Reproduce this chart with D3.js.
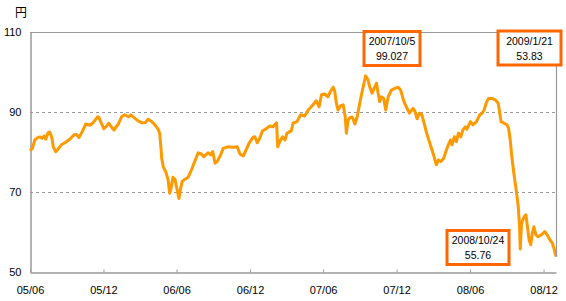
<!DOCTYPE html>
<html>
<head>
<meta charset="utf-8">
<script src="https://cdn.jsdelivr.net/npm/d3@7"></script>
<style>
  html, body { margin: 0; padding: 0; background: #fff; }
  svg { display: block; }
  text { font-family: "Liberation Sans", Arial, sans-serif; fill: #000; }
</style>
</head>
<body>
<svg id="chart" width="566" height="301"></svg>
<script>
// ---- data ----
const dates = [
"2005-06-21","2005-06-27","2005-07-03","2005-07-10","2005-07-16","2005-07-21","2005-07-26","2005-07-30",
"2005-08-05","2005-08-09","2005-08-14","2005-08-18","2005-08-24","2005-08-30","2005-09-07","2005-09-16",
"2005-09-28","2005-10-09","2005-10-15","2005-10-21","2005-10-29","2005-11-07","2005-11-17","2005-11-25",
"2005-12-06","2005-12-09","2005-12-14","2005-12-22","2005-12-29","2006-01-03","2006-01-10","2006-01-16",
"2006-01-27","2006-02-04","2006-02-12","2006-02-21","2006-02-27","2006-03-05","2006-03-17","2006-03-27",
"2006-04-05","2006-04-11","2006-04-20","2006-04-28","2006-05-06","2006-05-10","2006-05-13","2006-05-15",
"2006-05-19","2006-05-25","2006-05-31","2006-06-04","2006-06-08","2006-06-12","2006-06-17","2006-06-21",
"2006-06-27","2006-07-01","2006-07-05","2006-07-12","2006-07-20","2006-07-28","2006-08-05","2006-08-14",
"2006-08-22","2006-08-28","2006-09-04","2006-09-08","2006-09-14","2006-09-19","2006-09-25","2006-09-30",
"2006-10-09","2006-10-15","2006-10-27","2006-11-09","2006-11-19","2006-11-26","2006-12-04","2006-12-11",
"2006-12-19","2006-12-29","2007-01-02","2007-01-08","2007-01-14","2007-01-21","2007-01-29","2007-02-08",
"2007-02-16","2007-02-25","2007-02-28","2007-03-05","2007-03-12","2007-03-18","2007-03-23","2007-03-30",
"2007-04-03","2007-04-07","2007-04-17","2007-04-26","2007-05-06","2007-05-15","2007-05-27","2007-06-04",
"2007-06-11","2007-06-17","2007-06-25","2007-07-03","2007-07-09","2007-07-16","2007-07-20","2007-07-24",
"2007-07-28","2007-08-03","2007-08-10","2007-08-15","2007-08-18","2007-08-22","2007-08-28","2007-09-02",
"2007-09-08","2007-09-14","2007-09-21","2007-09-27","2007-10-05","2007-10-11","2007-10-15","2007-10-21",
"2007-10-26","2007-11-01","2007-11-05","2007-11-09","2007-11-13","2007-11-19","2007-11-24","2007-11-30",
"2007-12-08","2007-12-17","2007-12-25","2007-12-31","2008-01-06","2008-01-10","2008-01-18","2008-01-22",
"2008-01-31","2008-02-05","2008-02-10","2008-02-16","2008-02-22","2008-02-28","2008-03-06","2008-03-14",
"2008-03-22","2008-03-29","2008-04-03","2008-04-09","2008-04-16","2008-04-23","2008-04-28","2008-05-03",
"2008-05-07","2008-05-13","2008-05-18","2008-05-23","2008-05-29","2008-06-03","2008-06-09","2008-06-13",
"2008-06-22","2008-06-28","2008-07-07","2008-07-15","2008-07-21","2008-07-26","2008-07-31","2008-08-06",
"2008-08-15","2008-08-23","2008-08-30","2008-09-03","2008-09-06","2008-09-14","2008-09-21","2008-09-25",
"2008-09-29","2008-10-03","2008-10-07","2008-10-12","2008-10-16","2008-10-19","2008-10-22","2008-10-24",
"2008-10-27","2008-10-30","2008-11-03","2008-11-07","2008-11-11","2008-11-15","2008-11-19","2008-11-23",
"2008-11-27","2008-12-02","2008-12-07","2008-12-16","2008-12-24","2008-12-30","2009-01-06","2009-01-12",
"2009-01-16","2009-01-21"
];
const prices = [
80.3,80.9,83.0,83.6,83.8,83.4,84.0,83.2,
84.8,85.0,83.8,81.3,80.1,80.7,81.8,82.3,
83.2,84.3,84.4,83.6,85.1,87.0,86.7,87.3,
88.8,88.7,87.6,85.8,86.5,87.2,86.2,85.5,
87.0,88.8,89.3,88.8,89.3,88.8,87.8,87.3,
87.4,88.2,87.6,86.8,85.7,84.7,81.3,78.4,
76.3,75.1,73.0,69.7,71.3,73.7,73.2,71.2,
68.4,70.9,72.6,73.2,73.7,75.5,77.6,79.8,
79.5,78.8,79.5,79.8,79.3,80.1,77.2,77.6,
79.3,80.9,81.3,81.2,81.3,79.5,79.0,80.5,
82.3,83.7,83.8,82.3,83.4,85.3,85.7,86.5,
86.3,87.3,81.3,82.6,83.8,83.0,84.7,85.1,
85.3,87.2,87.6,89.3,89.0,90.5,91.8,92.8,
91.3,94.3,94.5,93.8,95.1,96.2,95.1,92.2,
90.5,91.5,91.8,88.8,84.7,88.0,88.7,88.7,
87.0,88.8,92.6,95.5,99.027,98.0,96.3,94.7,
95.9,97.2,94.7,92.6,93.8,93.4,90.5,93.8,
95.5,95.9,96.2,95.5,93.4,92.2,90.5,89.7,
90.9,90.1,88.3,89.7,89.3,87.0,84.3,81.8,
79.3,76.8,78.0,77.6,78.4,80.5,81.8,83.0,
81.8,83.8,82.6,84.7,83.8,85.5,86.3,85.7,
87.6,86.8,87.6,89.3,89.7,90.5,92.2,93.4,
93.4,93.0,92.2,89.7,87.6,87.2,86.8,85.9,
83.0,78.8,75.5,71.8,68.8,66.3,61.8,55.76,
62.0,63.0,63.8,64.3,61.3,58.0,56.8,59.7,
61.3,59.3,58.8,59.3,60.1,59.3,58.0,57.2,
55.9,53.83
];
const yTicks = [50, 70, 90, 110];
const gridValues = [70, 90];
const xTickDates = ["2005-06-21","2005-12-21","2006-06-21","2006-12-21","2007-06-21","2007-12-21","2008-06-21","2008-12-21"];
const xTickLabels = ["05/06","05/12","06/06","06/12","07/06","07/12","08/06","08/12"];
const unitLabel = "円";
const annDates = ["2007-10-05","2009-01-21","2008-10-24"];
const annDateText = ["2007/10/5","2009/1/21","2008/10/24"];
const annValues = [99.027, 53.83, 55.76];

// ---- layout ----
const parse = d3.utcParse("%Y-%m-%d");
const pLeft = 30, pRight = 556, pTop = 32, pBottom = 272;
const x = d3.scaleUtc().domain([parse("2005-06-21"), parse("2009-01-21")]).range([pLeft, pRight]);
const y = d3.scaleLinear().domain([50, 110]).range([pBottom, pTop]);
const data = dates.map((d, i) => ({ date: parse(d), value: prices[i] }));

const svg = d3.select("#chart");
const axisColor = "#999999";

// gridlines
svg.append("g").selectAll("line").data(gridValues).join("line")
  .attr("x1", pLeft).attr("x2", pRight)
  .attr("y1", d => y(d) + 0.5).attr("y2", d => y(d) + 0.5)
  .attr("stroke", axisColor).attr("stroke-width", 1).attr("stroke-dasharray", "3,3");

// top line at 110
svg.append("line")
  .attr("x1", pLeft).attr("x2", pRight)
  .attr("y1", y(110) + 0.5).attr("y2", y(110) + 0.5)
  .attr("stroke", axisColor).attr("stroke-width", 1);

// y axis
const yAxis = d3.axisLeft(y).tickValues(yTicks).tickSize(0).tickPadding(9);
const gy = svg.append("g").attr("transform", `translate(${pLeft + 0.5},0)`).call(yAxis);
gy.select(".domain").attr("stroke", axisColor).attr("stroke-width", 1.5);
gy.selectAll("text").attr("font-size", "11px").attr("fill", "#000")
  .style("font-family", "'Liberation Sans', Arial, sans-serif");

// x axis
const xAxis = d3.axisBottom(x)
  .tickValues(xTickDates.map(parse))
  .tickFormat((d, i) => xTickLabels[i])
  .tickSizeInner(-3).tickSizeOuter(0).tickPadding(14);
const gx = svg.append("g").attr("transform", `translate(0,${pBottom + 0.5})`).call(xAxis);
gx.select(".domain").attr("stroke", axisColor).attr("stroke-width", 1.5);
gx.selectAll(".tick line").attr("stroke", axisColor);
gx.selectAll("text").attr("font-size", "11px").attr("fill", "#000")
  .style("font-family", "'Liberation Sans', Arial, sans-serif");

// unit label
svg.append("text").attr("x", 21).attr("y", 16.5).attr("text-anchor", "middle")
  .attr("font-size", "12px")
  .style("font-family", "'Noto Sans CJK JP', sans-serif")
  .text(unitLabel);

// line
const line = d3.line().x(d => x(d.date)).y(d => y(d.value)).curve(d3.curveLinear);
svg.append("path").datum(data)
  .attr("d", line)
  .attr("fill", "none")
  .attr("stroke", "#FF9900")
  .attr("stroke-width", 3)
  .attr("stroke-linejoin", "round");

// annotations: box positions (style)
const boxes = [
  { bx: 364, by: 31.5, bw: 56, bh: 34 },
  { bx: 498, by: 31, bw: 63, bh: 34 },
  { bx: 447, by: 230.5, bw: 62, bh: 34 }
];
// connector for the last point
const endX = x(parse(annDates[1])), endY = y(annValues[1]);
svg.append("line")
  .attr("x1", endX + 0.5).attr("x2", endX + 0.5)
  .attr("y1", boxes[1].by + boxes[1].bh).attr("y2", endY)
  .attr("stroke", axisColor).attr("stroke-width", 1.2);

annDates.forEach((d, i) => {
  const b = boxes[i];
  const g = svg.append("g");
  g.append("rect").attr("x", b.bx).attr("y", b.by).attr("width", b.bw).attr("height", b.bh)
    .attr("fill", "#fff").attr("stroke", "#FF6600").attr("stroke-width", 3);
  g.append("text").attr("x", b.bx + b.bw / 2).attr("y", b.by + 13.5)
    .attr("text-anchor", "middle").attr("font-size", "10.5px").text(annDateText[i]);
  g.append("text").attr("x", b.bx + b.bw / 2).attr("y", b.by + 28.5)
    .attr("text-anchor", "middle").attr("font-size", "10.5px").text(String(annValues[i]));
});
</script>
</body>
</html>
